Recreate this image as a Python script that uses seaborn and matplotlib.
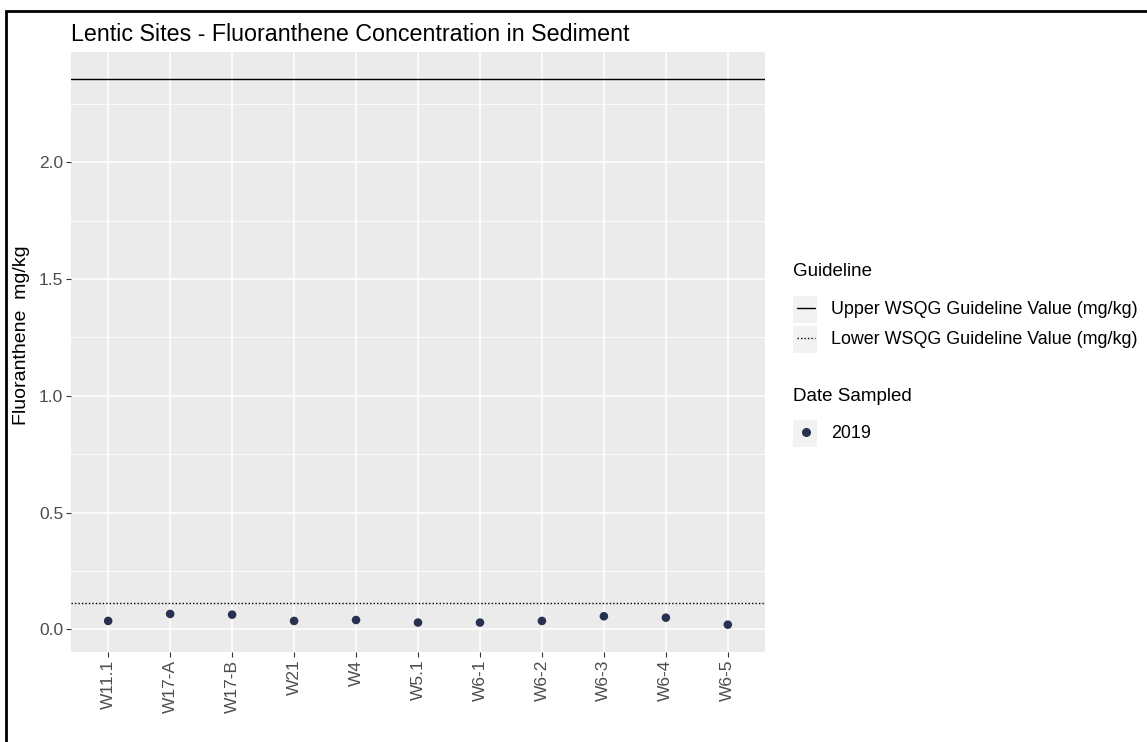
import matplotlib.pyplot as plt
from matplotlib.lines import Line2D
from matplotlib.patches import Rectangle
import pandas as pd
import seaborn as sns

sites = ["W11.1", "W17-A", "W17-B", "W21", "W4", "W5.1", "W6-1", "W6-2", "W6-3", "W6-4", "W6-5"]
fluoranthene = [0.036, 0.066, 0.063, 0.036, 0.040, 0.029, 0.029, 0.036, 0.056, 0.050, 0.020]
date_sampled = ["2019"] * len(sites)
upper_guideline = 2.355
lower_guideline = 0.111
y_ticks = [0.0, 0.5, 1.0, 1.5, 2.0]
y_minor = [0.25, 0.75, 1.25, 1.75, 2.25]

df = pd.DataFrame({"site": sites, "value": fluoranthene, "date": date_sampled})

sns.set_theme(style="darkgrid")
plt.rcParams["font.family"] = ["Liberation Sans", "DejaVu Sans"]

W, H = 1147, 742
fig = plt.figure(figsize=(W / 100, H / 100), dpi=100, facecolor="white")
ax = fig.add_axes([71 / W, 1 - 652 / H, (765 - 71) / W, (652 - 52) / H])
ax.set_facecolor("#EBEBEB")

ax.axhline(upper_guideline, color="black", lw=1.0, zorder=2)
ax.axhline(lower_guideline, color="black", lw=1.0, ls=(0, (1, 1.5)), zorder=2)

sns.scatterplot(data=df, x="site", y="value", color="#283250", s=38,
                edgecolor="none", legend=False, ax=ax, zorder=3)

ax.set_xlim(-0.6, len(sites) - 0.4)
ax.set_ylim(-0.097, 2.472)
ax.set_yticks(y_ticks)
ax.set_yticklabels([f"{t:.1f}" for t in y_ticks])
ax.set_yticks(y_minor, minor=True)
ax.grid(which="major", color="white", lw=1.1)
ax.grid(which="minor", axis="y", color="white", lw=0.55)
for s in ax.spines.values():
    s.set_visible(False)
ax.tick_params(axis="both", which="major", length=3.5, width=0.8, color="#333333",
               labelcolor="#4D4D4D", labelsize=12.5, pad=2, left=True, bottom=True)
ax.tick_params(axis="y", which="minor", length=0)
plt.setp(ax.get_xticklabels(), rotation=90, ha="center", va="top")
ax.set_xlabel("")
ax.set_ylabel("Fluoranthene  mg/kg", fontsize=14, color="black")
ax.yaxis.set_label_coords(-0.059, 0.528)
ax.set_title("Lentic Sites - Fluoranthene Concentration in Sediment",
             loc="left", fontsize=16.75, color="black", pad=8)

# legends (titles drawn as separate text for ggplot-like spacing)
leg_kw = dict(loc="upper left", frameon=False, fontsize=12.9,
              handlelength=1.0, handletextpad=0.9, labelspacing=0.72,
              borderaxespad=0, borderpad=0)
guide_handles = [Line2D([], [], color="black", lw=1.0),
                 Line2D([], [], color="black", lw=1.0, ls=(0, (1, 1.5)))]
guide_labels = ["Upper WSQG Guideline Value (mg/kg)", "Lower WSQG Guideline Value (mg/kg)"]
leg1 = fig.legend(guide_handles, guide_labels,
                  bbox_to_anchor=(797 / W, 1 - 301 / H), **leg_kw)
date_handles = [Line2D([], [], color="#283250", marker="o", ls="none", markersize=5.5)]
leg2 = fig.legend(date_handles, sorted(set(date_sampled)),
                  bbox_to_anchor=(797 / W, 1 - 425 / H), **leg_kw)
fig.text(793 / W, 1 - 272 / H, "Guideline", fontsize=13.5, color="black",
         ha="left", va="center")
fig.text(793 / W, 1 - 397 / H, "Date Sampled", fontsize=13.5, color="black",
         ha="left", va="center")
for leg in (leg1, leg2):
    for t in leg.get_texts():
        t.set_color("black")

# grey key backgrounds behind legend handles
fig.canvas.draw()
renderer = fig.canvas.get_renderer()
for leg in (leg1, leg2):
    for txt in leg.get_texts():
        bb = txt.get_window_extent(renderer)
        cy = (bb.y0 + bb.y1) / 2
        fig.add_artist(Rectangle((793 / W, (cy - 13.5) / H), 24 / W, 27 / H,
                                 transform=fig.transFigure, facecolor="#F2F2F2",
                                 edgecolor="none", zorder=0))

# outer frame (top and left edges visible)
fig.add_artist(Rectangle((6 / W, -0.05), 1.1, 1.05 - 11 / H, transform=fig.transFigure,
                         fill=False, edgecolor="black", lw=2.0))

fig.savefig("out.png", dpi=100)
